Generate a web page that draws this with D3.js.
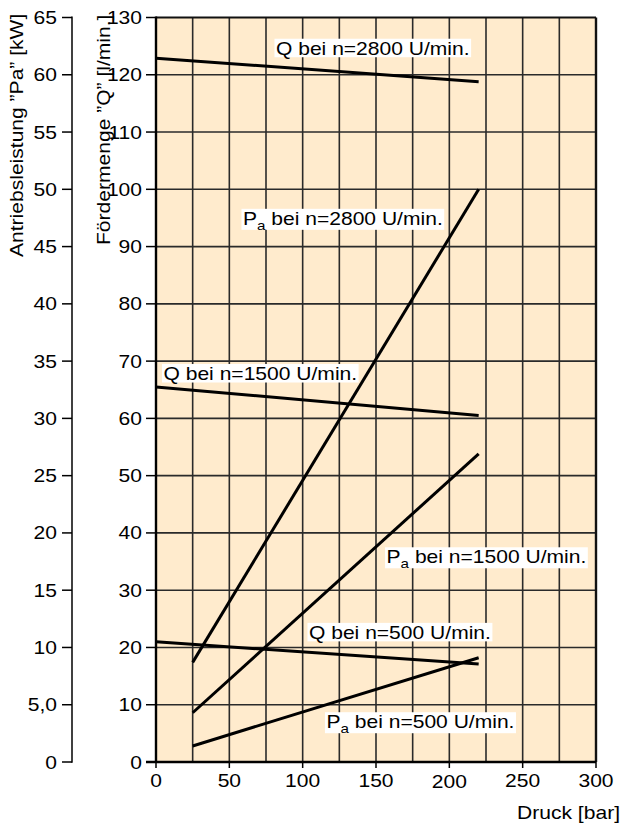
<!DOCTYPE html>
<html><head><meta charset="utf-8">
<script src="https://cdn.jsdelivr.net/npm/d3@7"></script>
<style>body{margin:0;background:#fff}svg{display:block}text{font-family:"Liberation Sans",Arial,Helvetica,sans-serif;fill:#000}</style>
</head><body>
<svg id="c" width="623" height="824"></svg>
<script>
// ---- data ----
const xTicks = [0, 50, 100, 150, 200, 250, 300];
const qTicks = [0, 10, 20, 30, 40, 50, 60, 70, 80, 90, 100, 110, 120, 130];
const kwTicks = [0, 5, 10, 15, 20, 25, 30, 35, 40, 45, 50, 55, 60, 65];
const kwTickLabels = ["0", "5,0", "10", "15", "20", "25", "30", "35", "40", "45", "50", "55", "60", "65"];
const qPressure = [0, 220];          // bar
const q2800 = [122.9, 118.8];        // l/min
const q1500 = [65.5, 60.5];
const q500 = [21.0, 17.1];
const paPressure = [25, 220];        // bar
const pa2800 = [8.7, 50.0];          // kW
const pa1500 = [4.3, 26.9];
const pa500 = [1.4, 9.1];
const seriesNames = ["Q bei n=2800 U/min.", "P|a| bei n=2800 U/min.", "Q bei n=1500 U/min.", "P|a| bei n=1500 U/min.", "Q bei n=500 U/min.", "P|a| bei n=500 U/min."];

// ---- layout ----
const S = 1.17; // horizontal glyph stretch
const svg = d3.select("#c");
const x = d3.scaleLinear().domain([0, 300]).range([156, 596]);
const yQ = d3.scaleLinear().domain([0, 130]).range([762, 17.5]);
const yKW = d3.scaleLinear().domain([0, 65]).range([762, 17.5]);

function stext(parent, tx, ty, str, anchor, size, rot) {
  const g = parent.append("g").attr("transform", `translate(${tx},${ty})` + (rot ? ` rotate(${rot})` : "") + ` scale(${S},1)`);
  return g.append("text").attr("text-anchor", anchor).attr("font-size", size).text(str);
}

// plot background
svg.append("rect").attr("x", x(0)).attr("y", yQ(130)).attr("width", x(300) - x(0)).attr("height", yQ(0) - yQ(130)).attr("fill", "#ffebcd");

// grid
const gridX = d3.range(25, 300, 25);
svg.append("g").selectAll("line").data(gridX).join("line")
  .attr("x1", d => x(d)).attr("x2", d => x(d)).attr("y1", yQ(130)).attr("y2", yQ(0))
  .attr("stroke", "#2a2a2a").attr("stroke-width", 1.6);
svg.append("g").selectAll("line").data(qTicks.filter(d => d > 0 && d < 130)).join("line")
  .attr("x1", x(0)).attr("x2", x(300)).attr("y1", d => yQ(d)).attr("y2", d => yQ(d))
  .attr("stroke", "#2a2a2a").attr("stroke-width", 1.6);

// frame
svg.append("line").attr("x1", x(0)).attr("x2", x(300)).attr("y1", yQ(130)).attr("y2", yQ(130)).attr("stroke", "#111").attr("stroke-width", 2.2);
svg.append("line").attr("x1", x(300)).attr("x2", x(300)).attr("y1", yQ(130)).attr("y2", yQ(0)).attr("stroke", "#111").attr("stroke-width", 2.4);

// Q axis (inner left)
const qAxis = svg.append("g");
qAxis.append("line").attr("x1", x(0)).attr("x2", x(0)).attr("y1", yQ(130) - 1).attr("y2", yQ(0)).attr("stroke", "#000").attr("stroke-width", 2.4);
qAxis.selectAll("line.t").data(qTicks).join("line").attr("class", "t")
  .attr("x1", x(0) - 10).attr("x2", x(0)).attr("y1", d => yQ(d)).attr("y2", d => yQ(d)).attr("stroke", "#000").attr("stroke-width", 1.5);
qTicks.forEach(d => stext(svg, 142, yQ(d) + 6.5, String(d), "end", 18));

// kW axis (outer left)
svg.append("line").attr("x1", 72).attr("x2", 72).attr("y1", yKW(65) - 1).attr("y2", yKW(0) + 0.75).attr("stroke", "#000").attr("stroke-width", 1.5);
svg.append("g").selectAll("line").data(kwTicks).join("line")
  .attr("x1", 62).attr("x2", 72).attr("y1", d => yKW(d)).attr("y2", d => yKW(d)).attr("stroke", "#000").attr("stroke-width", 1.5);
kwTicks.forEach((d, i) => stext(svg, 57, yKW(d) + 6.5, kwTickLabels[i], "end", 18));

// x axis
svg.append("line").attr("x1", x(0) - 10).attr("x2", x(300)).attr("y1", yQ(0)).attr("y2", yQ(0)).attr("stroke", "#000").attr("stroke-width", 2.4);
svg.append("g").selectAll("line").data(xTicks).join("line")
  .attr("x1", d => x(d)).attr("x2", d => x(d)).attr("y1", yQ(0)).attr("y2", yQ(0) + 6).attr("stroke", "#000").attr("stroke-width", 1.5);
xTicks.forEach(d => stext(svg, x(d), 786.5 + (d === 200 ? 1.5 : 0), String(d), "middle", 18));
stext(svg, 620, 819, "Druck [bar]", "end", 18);

// axis titles
stext(svg, 23, 257, "Antriebsleistung \u201DPa\u201D [kW]", "start", 18, -90);
stext(svg, 110, 245, "F\u00F6rdermenge \u201DQ\u201D [l/min.]", "start", 18, -90);

// lines
const line = d3.line();
const qSeries = [q2800, q1500, q500];
const paSeries = [pa2800, pa1500, pa500];
const lg = svg.append("g").attr("fill", "none").attr("stroke", "#000").attr("stroke-width", 3);
qSeries.forEach(s => lg.append("path").attr("d", line(s.map((v, i) => [x(qPressure[i]), yQ(v)]))));
paSeries.forEach(s => lg.append("path").attr("d", line(s.map((v, i) => [x(paPressure[i]), yKW(v)]))));

// labels (anchor in data coords: pressure, Q scale)
const labelPos = [[81.8, 123.5], [59.3, 93.8], [5.1, 66.7], [157.2, 34.7], [104.3, 21.5], [116.2, 5.9]];
seriesNames.forEach((name, i) => {
  const [px, py] = labelPos[i];
  const g = svg.append("g").attr("transform", `translate(${x(px)},${yQ(py)})`);
  const rect = g.append("rect").attr("fill", "#fff");
  const t = g.append("g").attr("transform", `scale(${S},1)`).append("text").attr("font-size", 18);
  const parts = name.split("|");
  const sub = parts.length > 1;
  if (sub) {
    t.append("tspan").text(parts[0]);
    t.append("tspan").attr("font-size", 13).attr("dy", 5).text(parts[1]);
    t.append("tspan").attr("dy", -5).text(parts[2]);
  } else {
    t.text(name);
  }
  const bb = t.node().getBBox();
  rect.attr("x", -1.5).attr("y", -16).attr("width", bb.width * S + 3).attr("height", sub ? 21 : 18.5);
});
</script>
</body></html>
